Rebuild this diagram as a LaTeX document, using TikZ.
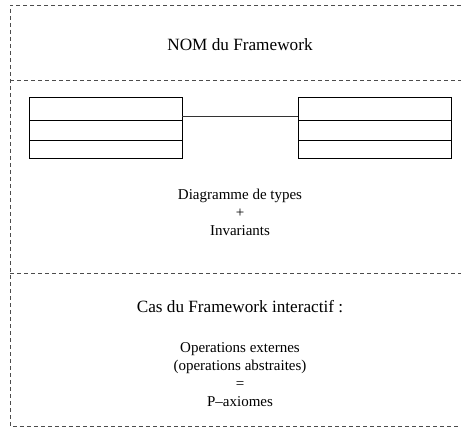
\documentclass[tikz,border=0pt]{standalone}
\usepackage{fontspec}
\setmainfont{Liberation Serif}
\begin{document}
\begin{tikzpicture}[x=1pt,y=-1pt,
  frameline/.style={draw=black!70,line width=0.9pt,dash pattern=on 4pt off 3pt},
  cell/.style={draw=black,line width=0.9pt,minimum width=153pt,inner sep=0pt,outer sep=0pt,anchor=north west},
  title/.style={font=\fontsize{17.2}{20.6}\selectfont,align=center,inner sep=0pt},
  body/.style={font=\fontsize{15}{18}\selectfont,align=center,inner sep=0pt}]
\useasboundingbox (0,0) rectangle (461,428);
% frame
\coordinate (tl) at (10,5);
\coordinate (tr) at (461,5);
\coordinate (bl) at (10,426);
\coordinate (br) at (461,426);
\coordinate (s1l) at (10,80);
\coordinate (s1r) at (461,80);
\coordinate (s2l) at (10,273);
\coordinate (s2r) at (461,273);
\draw[frameline] (tr) -- (tl) -- (bl) -- (br);
\draw[frameline] (s1l) -- (s1r);
\draw[frameline] (s2l) -- (s2r);
% title
\node[title] (nom) at (240,45) {NOM du Framework};
% left class
\node[cell,minimum height=23pt] (c1a) at (29,97) {};
\node[cell,minimum height=20pt] (c1b) at (c1a.south west) {};
\node[cell,minimum height=18pt] (c1c) at (c1b.south west) {};
% right class
\node[cell,minimum height=23pt] (c2a) at (298,97) {};
\node[cell,minimum height=20pt] (c2b) at (c2a.south west) {};
\node[cell,minimum height=18pt] (c2c) at (c2b.south west) {};
% association
\draw[black!80,line width=0.9pt] ([yshift=-7.5pt]c1a.east) -- ([yshift=-7.5pt]c2a.west);
% texts
\node[body] (diag) at (240,212) {Diagramme de types\\+\\Invariants};
\node[title] (cas) at (240,307) {Cas du Framework interactif :};
\node[body] (ops) at (240,375) {Operations externes\\(operations abstraites)\\=\\P--axiomes};
\end{tikzpicture}
\end{document}
